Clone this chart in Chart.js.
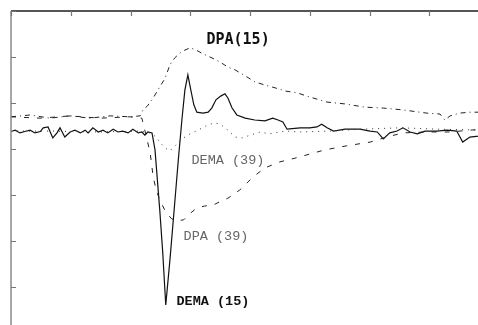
<!DOCTYPE html>
<html>
<head>
<meta charset="utf-8">
<script src="https://cdn.jsdelivr.net/npm/chart.js@4/dist/chart.umd.min.js"></script>
<style>
  html, body { margin:0; padding:0; background:#fff; overflow:hidden; width:478px; height:325px; }
  #c { position:absolute; left:0; top:0; }
</style>
</head>
<body>
<canvas id="c" width="500" height="345"></canvas>
<script>
// Time axis (ms) and amplitude (arbitrary units)
const xTicks = [0, 100, 200, 300, 400, 500, 600, 700, 800];
const yTicks = [26, 16, 6, -4, -14, -24, -34, -44];

// DEMA(15) - solid
const dema15X = [0,7,15,23,32,40,49,54,62,70,77,82,90,99,107,116,124,129,137,146,154,162,171,179,187,196,204,213,219,224,229,236,241,249,254,259,266,273,280,286,291,296,301,306,311,321,330,336,343,351,358,363,370,378,392,408,425,438,447,455,462,484,500,512,520,529,540,559,584,601,613,623,634,646,656,668,680,693,713,730,746,756,768,782,800];
const dema15Y = [-0.2,0.1,-0.5,-0.2,0.1,-0.5,-0.2,0.6,0.8,-1.6,-0.5,0.6,-1.4,-0.3,0.1,-0.5,0.1,-0.5,0.6,-0.3,0.1,-0.5,0.3,-0.3,-0.1,-0.5,0.3,-0.5,-0.3,-1.0,-0.3,-0.5,-4.2,-17.3,-26.6,-37.9,-28.1,-17.3,-6.4,2.3,8.8,12.1,8.8,5.6,4.0,3.8,4.0,4.9,6.7,7.5,8.0,7.1,4.9,3.4,2.7,2.3,2.1,2.7,2.3,1.9,0.3,0.6,0.6,0.8,1.4,0.6,-0.1,0.3,0.3,-0.1,-0.3,-1.8,-0.5,-0.1,0.6,-0.3,-0.7,-0.1,-0.1,0.1,-0.1,-2.5,-1.4,-1.2,-0.7];

// DPA(15) - dash-dot
const dpa15X = [0,32,65,99,132,166,199,216,221,228,238,249,258,266,274,283,291,300,310,321,333,350,363,375,392,408,425,442,459,479,500,529,559,592,623,656,696,718,726,735,751,768,782,800];
const dpa15Y = [3.0,3.4,2.7,3.2,2.7,3.2,3.0,3.2,4.5,5.3,7.1,9.5,11.4,14.3,15.8,16.9,17.5,18.0,17.5,16.7,16.0,14.9,13.8,13.2,11.9,10.6,9.9,9.3,8.6,8.2,7.3,6.2,5.8,5.1,4.9,4.5,3.8,3.6,2.3,3.2,3.8,4.0,4.0,4.3];

// DEMA(39) - dotted
const dema39X = [0,65,149,216,233,243,249,258,266,276,286,300,313,326,340,350,363,375,387,400,417,433,459,484,534,584,651,718,800];
const dema39Y = [-0.1,-0.1,-0.3,-0.1,-0.5,-1.4,-2.5,-3.8,-4.4,-3.1,-1.8,-0.7,0.1,1.0,1.7,1.4,0.1,-1.4,-1.6,-1.0,-0.3,-0.7,-0.1,-0.3,-0.1,0.3,0.6,0.3,0.1];

// DPA(39) - dashed
const dpa39X = [0,49,99,149,199,219,226,233,238,243,249,259,269,279,289,299,311,324,338,349,363,383,405,425,450,475,500,525,562,601,629,656,696,735,768,800];
const dpa39Y = [3.0,2.7,3.2,2.7,3.0,2.7,-1.0,-4.9,-10.1,-12.9,-15.1,-17.7,-19.2,-19.6,-19.4,-18.1,-16.8,-16.4,-16.2,-15.5,-14.7,-12.9,-10.1,-8.1,-6.8,-6.0,-5.1,-4.2,-3.3,-2.5,-1.4,-0.5,-0.3,-0.3,0.1,0.3];

const labels = [
  { text: 'DPA(15)',   x: 380, y: 19.6,  font: 'bold 15px "DejaVu Sans Mono"', color: '#111' },
  { text: 'DEMA (39)', x: 363, y: -6.4,  font: '13.5px "Liberation Mono"', color: '#666' },
  { text: 'DPA (39)',  x: 343, y: -23.1, font: '13.5px "Liberation Mono"', color: '#666' },
  { text: 'DEMA (15)', x: 338, y: -37.1, font: 'bold 13.5px "Liberation Mono"', color: '#111' }
];

const zip = (xs, ys) => xs.map((x, i) => ({ x: x, y: ys[i] }));

const framePlugin = {
  id: 'frame',
  afterDatasetsDraw(chart) {
    const ctx = chart.ctx;
    const xs = chart.scales.x, ys = chart.scales.y;
    const a = chart.chartArea;
    ctx.save();
    labels.forEach(l => {
      ctx.font = l.font;
      ctx.fillStyle = l.color;
      ctx.textAlign = 'center';
      ctx.textBaseline = 'middle';
      ctx.fillText(l.text, xs.getPixelForValue(l.x), ys.getPixelForValue(l.y));
    });
    // top border (dark) and left border (light gray)
    ctx.strokeStyle = '#555';
    ctx.lineWidth = 2;
    ctx.beginPath();
    ctx.moveTo(a.left, a.top); ctx.lineTo(a.right, a.top);
    ctx.moveTo(a.left, a.bottom); ctx.lineTo(a.right, a.bottom);
    ctx.stroke();
    ctx.strokeStyle = '#8a8a8a';
    ctx.lineWidth = 1.5;
    ctx.beginPath();
    ctx.moveTo(a.left, a.top); ctx.lineTo(a.left, a.bottom);
    ctx.moveTo(a.right, a.top); ctx.lineTo(a.right, a.bottom);
    ctx.stroke();
    // inward ticks
    ctx.strokeStyle = '#777';
    ctx.lineWidth = 1.2;
    ctx.beginPath();
    xTicks.forEach(t => {
      const px = Math.round(xs.getPixelForValue(t)) + 0.5;
      ctx.moveTo(px, a.top); ctx.lineTo(px, a.top + 5);
      ctx.moveTo(px, a.bottom); ctx.lineTo(px, a.bottom - 5);
    });
    yTicks.forEach(t => {
      const py = Math.round(ys.getPixelForValue(t)) + 0.5;
      ctx.moveTo(a.left, py); ctx.lineTo(a.left + 5, py);
      ctx.moveTo(a.right, py); ctx.lineTo(a.right - 5, py);
    });
    ctx.stroke();
    ctx.restore();
  }
};

new Chart(document.getElementById('c'), {
  type: 'line',
  data: {
    datasets: [
      { label: 'DPA(15)', data: zip(dpa15X, dpa15Y), borderColor: '#222', borderWidth: 1, borderDash: [5, 4, 1, 4] },
      { label: 'DPA(39)', data: zip(dpa39X, dpa39Y), borderColor: '#222', borderWidth: 1, borderDash: [5, 8] },
      { label: 'DEMA(39)', data: zip(dema39X, dema39Y), borderColor: '#333', borderWidth: 1, borderDash: [1, 5] },
      { label: 'DEMA(15)', data: zip(dema15X, dema15Y), borderColor: '#111', borderWidth: 1.2 }
    ]
  },
  options: {
    responsive: false,
    animation: false,
    devicePixelRatio: 1,
    layout: { padding: { left: 11, top: 11, right: 11, bottom: 12 } },
    elements: { point: { radius: 0 }, line: { tension: 0, fill: false } },
    plugins: { legend: { display: false }, tooltip: { enabled: false } },
    scales: {
      x: { type: 'linear', min: 0, max: 800, display: false },
      y: { type: 'linear', min: -44, max: 26, display: false }
    }
  },
  plugins: [framePlugin]
});
</script>
</body>
</html>
